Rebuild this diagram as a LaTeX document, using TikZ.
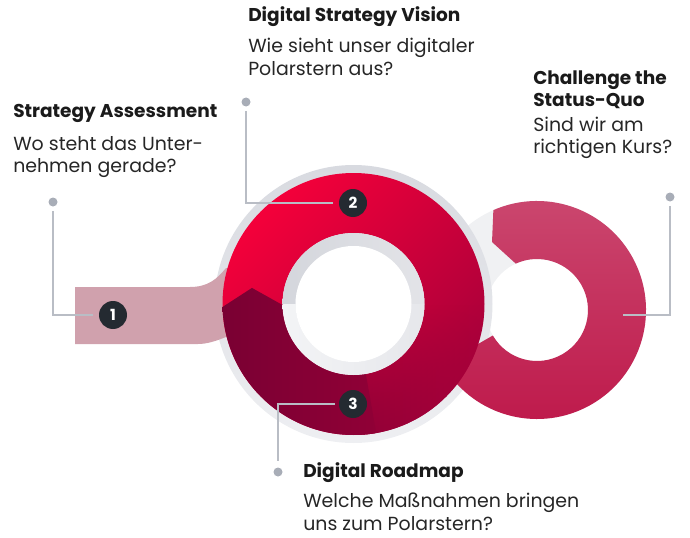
\documentclass[tikz,border=0pt]{standalone}
\usepackage{fontspec}
\setmainfont{Poppins}
\usetikzlibrary{fadings}
\definecolor{redA}{HTML}{F4003A}
\definecolor{redB}{HTML}{A6003A}
\definecolor{darkA}{HTML}{7A0033}
\definecolor{darkM}{HTML}{900036}
\definecolor{darkB}{HTML}{A8003A}
\definecolor{pinkA}{HTML}{CB4970}
\definecolor{pinkB}{HTML}{BE184A}
\definecolor{tabpink}{HTML}{D0A1AD}
\definecolor{haloA}{HTML}{D8DAE0}
\definecolor{haloB}{HTML}{EEEFF2}
\definecolor{ringgray}{HTML}{F0F1F3}
\definecolor{innerA}{HTML}{D4D6DC}
\definecolor{innerB}{HTML}{E3E4E8}
\definecolor{innerC}{HTML}{F3F4F6}
\definecolor{innerD}{HTML}{E6E7EB}
\definecolor{badgecol}{HTML}{242A31}
\definecolor{linecol}{HTML}{B9BDC5}
\definecolor{dotcol}{HTML}{A8ADB7}
\definecolor{headcol}{HTML}{1A1A1A}
\definecolor{bodycol}{HTML}{262626}
\tikzfading[name=fadeU, top color=transparent!100, middle color=transparent!0, bottom color=transparent!0]
\tikzset{
  badge/.style={circle, fill=badgecol, minimum size=21pt, inner sep=0pt, text=white, font=\bfseries\fontsize{11.5}{13}\selectfont},
  dotnode/.style={circle, fill=dotcol, minimum size=6.75pt, inner sep=0pt},
  conn/.style={draw=linecol, line width=0.8pt, shorten <=3pt, shorten >=4.5pt},
  head/.style={anchor=base west, inner sep=0pt, text=headcol, font=\bfseries\fontsize{13.9}{16}\selectfont},
  body/.style={anchor=base west, inner sep=0pt, text=bodycol, font=\fontsize{14.2}{16}\selectfont}
}
\begin{document}
\begin{tikzpicture}[x=0.75pt, y=0.75pt]
\useasboundingbox (0,0) rectangle (690,537);
\coordinate (M) at (353.5,233);
\coordinate (R) at (537,227);
% right ring gray base
\fill[ringgray, even odd rule] (R) circle[radius=109] (R) circle[radius=51];
% halo of main circle
\shade[top color=haloA, bottom color=haloB] (M) circle[radius=139];
% left tab
\fill[tabpink] (75,250) -- (190,250) .. controls (208,250) and (217,258) .. (226,269) -- (260,269) -- (260,198) -- (226,200) .. controls (216,196) and (207,193) .. (198,193) -- (75,193) -- cycle;
% pink segment of right ring
\begin{scope}[shift={(537,227)}]
\shade[top color=pinkA, bottom color=pinkB] (113.6:109) arc[start angle=113.6, end angle=-150, radius=109] -- (-150:51) arc[start angle=-150, end angle=114.6, radius=51] -- (123.5:81.5) -- cycle;
\end{scope}
% main red ring
\shade[even odd rule, left color=redA, right color=redB, shading angle=45] (M) circle[radius=131] (M) circle[radius=71];
\begin{scope}[shift={(353.5,233)}]
% dark lower segment: fading right part
\shade[left color=darkM, right color=darkB, path fading=fadeU] (270:131) arc[start angle=270, end angle=360, radius=131] -- (0:71) arc[start angle=360, end angle=270, radius=71] -- cycle;
% dark lower segment: opaque left part
\shade[left color=darkA, right color=darkM] (181.3:131) arc[start angle=181.3, end angle=280, radius=131] -- (280:71) arc[start angle=280, end angle=180.8, radius=71] -- (171:102.8) -- cycle;
% inner gray ring
\shade[left color=innerA, right color=innerB] (180:71) arc[start angle=180, end angle=0, radius=71] -- (0:58) arc[start angle=0, end angle=180, radius=58] -- cycle;
\shade[left color=innerC, right color=innerD] (180:71) arc[start angle=180, end angle=360, radius=71] -- (0:58) arc[start angle=360, end angle=180, radius=58] -- cycle;
\fill[white] (0,0) circle[radius=58];
\end{scope}
% badges and dots
\node[badge] (b1) at (113,222) {1};
\node[badge] (b2) at (353,334) {2};
\node[badge] (b3) at (353,133) {3};
\node[dotnode] (d1) at (53,335) {};
\node[dotnode] (d2) at (246,435) {};
\node[dotnode] (d3) at (278,65) {};
\node[dotnode] (d4) at (670,340) {};
\coordinate (e4) at (623,222);
\draw[conn] (d1) |- (b1);
\draw[conn] (d2) |- (b2);
\draw[conn] (b3) -| (d3);
\draw[conn, shorten >=0pt] (d4) |- (e4);
% texts
\node[head] (h1) at (13,420) {Strategy Assessment};
\node[body] (t1a) at (13,387) {Wo steht das Unter-};
\node[body] (t1b) at (13,364) {nehmen gerade?};
\node[head] (h2) at (248,515) {Digital Strategy Vision};
\node[body] (t2a) at (248,484) {Wie sieht unser digitaler};
\node[body] (t2b) at (248,461) {Polarstern aus?};
\node[head] (h3a) at (533,452) {Challenge the};
\node[head] (h3b) at (533,431) {Status-Quo};
\node[body] (t3a) at (533,406) {Sind wir am};
\node[body] (t3b) at (533,383) {richtigen Kurs?};
\node[head] (h4) at (303,60) {Digital Roadmap};
\node[body] (t4a) at (303,30) {Welche Maßnahmen bringen};
\node[body] (t4b) at (303,7) {uns zum Polarstern?};
\end{tikzpicture}
\end{document}
